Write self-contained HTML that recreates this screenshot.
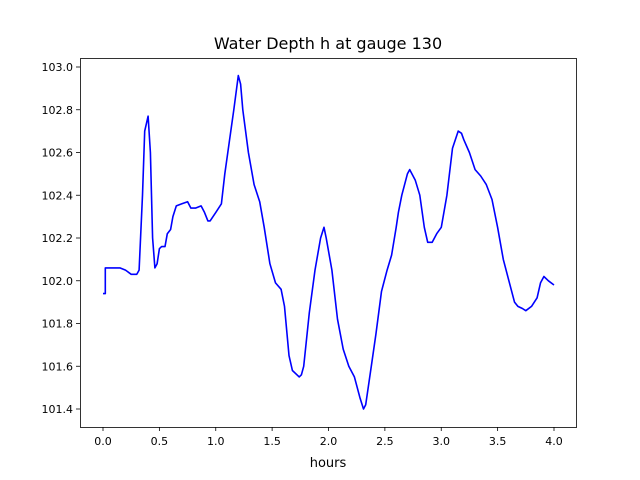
<!DOCTYPE html>
<html><head><meta charset="utf-8"><style>
body{margin:0;background:#fff}
svg{display:block;font-family:"DejaVu Sans","Liberation Sans",sans-serif}
</style></head><body>
<svg width="640" height="480">
<rect width="640" height="480" fill="#fff"/>
<text x="328" y="49" text-anchor="middle" font-size="16">Water Depth h at gauge 130</text>
<g id="ticks"></g>
<path id="line" fill="none" stroke="#0000ff" stroke-width="1.6" stroke-linejoin="round"/>
<rect x="80.5" y="58.5" width="496" height="369" fill="none" stroke="#000" stroke-width="0.8"/>
<text x="328" y="467" text-anchor="middle" font-size="13">hours</text>
</svg>
<script>
const times=[0,0.02,0.02,0.15,0.2,0.25,0.3,0.32,0.35,0.37,0.4,0.42,0.44,0.46,0.48,0.5,0.52,0.55,0.57,0.6,0.62,0.65,0.7,0.75,0.78,0.82,0.87,0.9,0.93,0.95,1.0,1.05,1.08,1.12,1.16,1.2,1.22,1.24,1.29,1.34,1.39,1.43,1.48,1.53,1.58,1.61,1.65,1.68,1.74,1.76,1.78,1.83,1.88,1.93,1.96,1.98,2.03,2.08,2.13,2.18,2.23,2.28,2.31,2.33,2.38,2.42,2.47,2.52,2.56,2.6,2.62,2.65,2.7,2.72,2.77,2.81,2.85,2.88,2.92,2.96,3.0,3.05,3.1,3.15,3.18,3.2,3.25,3.3,3.35,3.4,3.45,3.5,3.55,3.6,3.65,3.68,3.72,3.75,3.8,3.85,3.88,3.91,3.95,4.0];
const depths=[101.94,101.94,102.06,102.06,102.05,102.03,102.03,102.05,102.4,102.7,102.77,102.6,102.2,102.06,102.08,102.15,102.16,102.16,102.22,102.24,102.3,102.35,102.36,102.37,102.34,102.34,102.35,102.32,102.28,102.28,102.32,102.36,102.5,102.65,102.8,102.96,102.92,102.8,102.6,102.45,102.37,102.25,102.08,101.99,101.96,101.88,101.65,101.58,101.55,101.56,101.6,101.85,102.05,102.2,102.25,102.2,102.05,101.82,101.68,101.6,101.55,101.45,101.4,101.42,101.6,101.75,101.95,102.05,102.12,102.25,102.32,102.4,102.5,102.52,102.47,102.4,102.25,102.18,102.18,102.22,102.25,102.4,102.62,102.7,102.69,102.66,102.6,102.52,102.49,102.45,102.38,102.25,102.1,102.0,101.9,101.88,101.87,101.86,101.88,101.92,101.99,102.02,102.0,101.98];
const xTicks=[0,0.5,1,1.5,2,2.5,3,3.5,4];
const yTicks=[101.4,101.6,101.8,102.0,102.2,102.4,102.6,102.8,103.0];
const X=t=>103+t*112.75;
const Y=h=>67+(103-h)*213.75;
const NS='http://www.w3.org/2000/svg';
const g=document.getElementById('ticks');
function mk(tag,a){const e=document.createElementNS(NS,tag);for(const k in a)e.setAttribute(k,a[k]);g.appendChild(e);return e;}
xTicks.forEach(v=>{
  const l=mk('line',{x1:X(v),x2:X(v),y1:427,y2:431,stroke:'#000','stroke-width':0.8});
  
  
  const t=mk('text',{x:X(v),y:445,'text-anchor':'middle','font-size':11});
  
  
  t.textContent=v.toFixed(1);
});
yTicks.forEach(v=>{
  const l=mk('line',{x1:76,x2:80,y1:Y(v),y2:Y(v),stroke:'#000','stroke-width':0.8});
  
  
  const t=mk('text',{x:73,y:Y(v)+4,'text-anchor':'end','font-size':11});
  
  
  t.textContent=v.toFixed(1);
});
document.getElementById('line').setAttribute('d',times.map((t,i)=>(i?'L':'M')+X(t).toFixed(1)+','+Y(depths[i]).toFixed(1)).join(''));
</script>
</body></html>
